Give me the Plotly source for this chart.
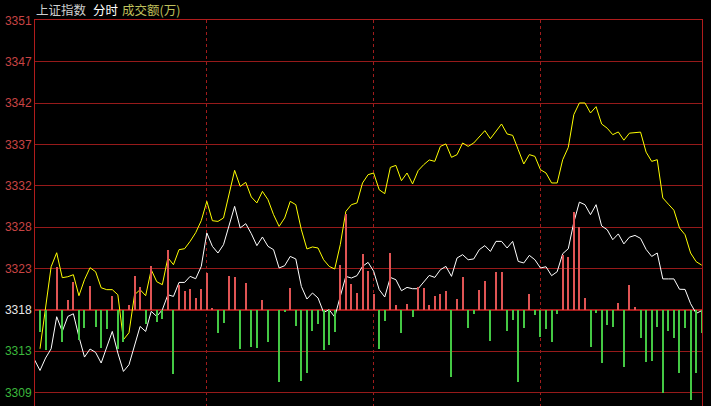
import plotly.graph_objects as go

# ---- data (2-minute samples, index 0..119) ----
idx = list(range(120))

# white line: 上证指数 (first sample at index -1 is the opening point at the left border)
white_idx = [-1] + idx
white = [3312.49,
    3311.26, 3312.68, 3313.74, 3317.40, 3315.72, 3317.43, 3317.74, 3315.11, 3312.79, 3313.71,
    3313.32, 3312.11, 3314.01, 3315.72, 3313.25, 3311.15, 3311.91, 3314.20, 3316.29, 3315.72,
    3318.01, 3317.43, 3318.20, 3319.91, 3319.72, 3321.32, 3321.32, 3322.01, 3321.74, 3323.15,
    3326.97, 3325.44, 3324.68, 3325.63, 3327.92, 3330.01, 3327.54, 3328.03, 3326.89, 3325.52,
    3326.51, 3325.44, 3325.06, 3322.97, 3323.23, 3324.29, 3324.00, 3320.86, 3319.42, 3320.11,
    3319.54, 3317.89, 3318.20, 3317.37, 3319.72, 3322.01, 3321.82, 3322.09, 3323.15, 3323.61,
    3322.60, 3320.49, 3319.65, 3321.89, 3321.63, 3320.37, 3320.75, 3320.60, 3320.60, 3321.43,
    3322.12, 3321.89, 3322.77, 3323.15, 3322.01, 3324.11, 3324.49, 3323.91, 3324.00, 3325.06,
    3325.52, 3324.86, 3326.01, 3326.01, 3325.25, 3326.01, 3323.72, 3323.54, 3324.41, 3323.91,
    3322.97, 3323.11, 3322.09, 3322.54, 3324.60, 3325.17, 3328.20, 3330.49, 3330.20, 3329.06,
    3330.20, 3327.77, 3327.34, 3326.20, 3326.86, 3325.72, 3326.49, 3326.69, 3326.35, 3325.09,
    3324.29, 3324.68, 3321.72, 3321.72, 3321.72, 3320.54, 3320.52, 3318.89, 3317.78, 3318.09]

# yellow line
yellow = [
    3313.74, 3318.20, 3323.11, 3324.71, 3321.86, 3321.97, 3322.20, 3319.80, 3321.63, 3323.00,
    3322.54, 3320.71, 3320.49, 3320.49, 3319.91, 3314.77, 3315.57, 3319.91, 3320.49, 3319.80,
    3322.77, 3321.40, 3321.06, 3324.14, 3323.34, 3325.06, 3325.17, 3326.01, 3327.00, 3328.37,
    3330.58, 3328.37, 3328.29, 3328.68, 3331.54, 3334.12, 3332.29, 3332.75, 3331.08, 3330.40,
    3331.72, 3330.77, 3329.06, 3327.72, 3328.68, 3330.58, 3330.20, 3327.34, 3325.14, 3325.37,
    3325.25, 3323.91, 3323.15, 3322.85, 3325.63, 3329.43, 3330.20, 3330.40, 3332.68, 3333.63,
    3333.82, 3331.91, 3331.46, 3334.46, 3334.69, 3332.94, 3333.82, 3332.57, 3334.09, 3334.77,
    3335.31, 3335.15, 3336.86, 3337.14, 3335.61, 3335.92, 3337.25, 3336.86, 3337.25, 3338.01,
    3338.66, 3337.74, 3338.58, 3339.42, 3338.28, 3338.12, 3336.49, 3334.85, 3335.92, 3335.72,
    3334.20, 3333.82, 3332.68, 3332.68, 3335.34, 3336.75, 3340.49, 3341.82, 3341.82, 3340.68,
    3341.40, 3339.42, 3338.94, 3338.20, 3338.51, 3337.57, 3338.37, 3338.43, 3338.49, 3336.20,
    3335.15, 3335.34, 3330.97, 3330.26, 3329.57, 3327.54, 3326.77, 3324.68, 3323.69, 3323.29]

# 成交额 bars (signed, relative units)
amount = [
    -21.7, -40.0, 0.0, 43.3, -31.7, 10.0, 28.3, -30.0, -18.3, 24.0,
    -17.0, -38.3, -19.0, 14.0, -39.0, -32.0, 5.0, 34.0, 23.3, -13.5,
    44.5, -12.0, -9.3, 60.0, -64.0, 25.3, 19.0, 21.0, 12.0, 21.0,
    36.7, 2.2, -23.3, -13.3, 34.0, 33.0, -39.3, 26.7, -37.3, -38.3,
    10.0, -31.7, 0.0, -71.7, -1.7, 22.0, -16.0, -70.5, -63.3, -20.7,
    -14.0, -39.7, -35.0, -21.7, 45.5, 95.8, 25.8, 17.0, 56.0, 39.2,
    16.0, -38.7, -10.7, 56.7, 5.0, -22.5, 5.7, -6.7, 23.3, 21.7,
    5.0, 14.0, 16.0, 19.0, -66.7, 11.0, 33.3, -18.3, -4.3, 20.0,
    29.0, -30.5, 38.3, 38.3, -20.8, -10.3, -71.7, -17.5, 16.0, -5.0,
    -26.7, -19.0, -31.7, -4.0, 54.7, 53.3, 97.8, 83.3, 12.0, -36.7,
    -2.8, -53.3, -15.0, -16.7, 6.7, -56.7, 25.0, 2.7, -28.3, -52.0,
    -50.7, -16.7, -83.3, -20.5, -27.5, -63.3, -18.3, -90.0, -62.5, -23.3]

# y-axis ticks
tick_vals = [3308.76, 3313.48, 3318.20, 3322.92, 3327.64, 3332.36, 3337.08, 3341.80, 3346.52, 3351.24]
tick_labels = ["3309", "3313", "3318", "3323", "3328", "3332", "3337", "3342", "3347", "3351"]
prev_close = 3318.20
hour_marks = [30, 60, 90]

RED_TXT = "#c84444"
GREEN_TXT = "#3cb83c"
GRID = "#961a1a"

def label(v, t):
    if abs(v - prev_close) < 0.01:
        c = "#e8e8e8"
    elif v > prev_close:
        c = RED_TXT
    else:
        c = GREEN_TXT
    return f'<span style="color:{c}">{t}</span>'

ticktext = [label(v, t) for v, t in zip(tick_vals, tick_labels)]
bar_colors = ["#e05454" if a > 0 else "#44c844" for a in amount]

fig = go.Figure()
fig.add_trace(go.Bar(x=idx, y=amount, yaxis="y2", width=0.18,
                     marker=dict(color=bar_colors, line=dict(width=0)),
                     hoverinfo="skip", showlegend=False))
fig.add_trace(go.Scatter(x=idx, y=yellow, mode="lines",
                         line=dict(color="#ffff00", width=1),
                         hoverinfo="skip", showlegend=False))
fig.add_trace(go.Scatter(x=white_idx, y=white, mode="lines",
                         line=dict(color="#ffffff", width=1),
                         hoverinfo="skip", showlegend=False))

fig.update_layout(
    width=711, height=406,
    margin=dict(l=35, r=9, t=20, b=0, autoexpand=False),
    paper_bgcolor="#000000", plot_bgcolor="#000000",
    bargap=0,
    xaxis=dict(range=[-0.9, 119.05], tickvals=hour_marks, showticklabels=False,
               showgrid=True, gridcolor="#a01c1c", griddash="dot", gridwidth=1,
               zeroline=False, showline=True, linecolor="#b01c1c", mirror=True,
               ticks="", fixedrange=True, automargin=False),
    yaxis=dict(range=[3307.2, 3351.3], tickvals=tick_vals, ticktext=ticktext,
               showgrid=True, gridcolor=GRID, gridwidth=1, zeroline=False,
               showline=True, linecolor="#b01c1c", mirror=True, ticks="",
               tickfont=dict(family="Liberation Sans, Arial", size=12),
               fixedrange=True, automargin=False),
    yaxis2=dict(range=[-96, 290], overlaying="y", showgrid=False,
                showticklabels=False, zeroline=True, zerolinecolor="#a81c1c",
                zerolinewidth=2, fixedrange=True, automargin=False),
    font=dict(family="Noto Sans CJK SC"),
)

def px_to_paper(px):
    return (px - 35) / 667.0

title_parts = [("上证指数", "#cfcfcf", 35), ("分时", "#ffffff", 92), ("成交额(万)", "#c0c05c", 121)]
for txt, col, px in title_parts:
    fig.add_annotation(text=txt, xref="paper", yref="paper", x=px_to_paper(px), y=1,
                       xanchor="left", yanchor="middle", yshift=11, showarrow=False,
                       borderpad=0, font=dict(family="Noto Sans CJK SC", size=12.5, color=col))

fig.write_html("out.html", config={"displayModeBar": False},
               post_script="document.body.style.margin='0';document.body.style.padding='0';"
                           "document.body.style.background='#000';")
